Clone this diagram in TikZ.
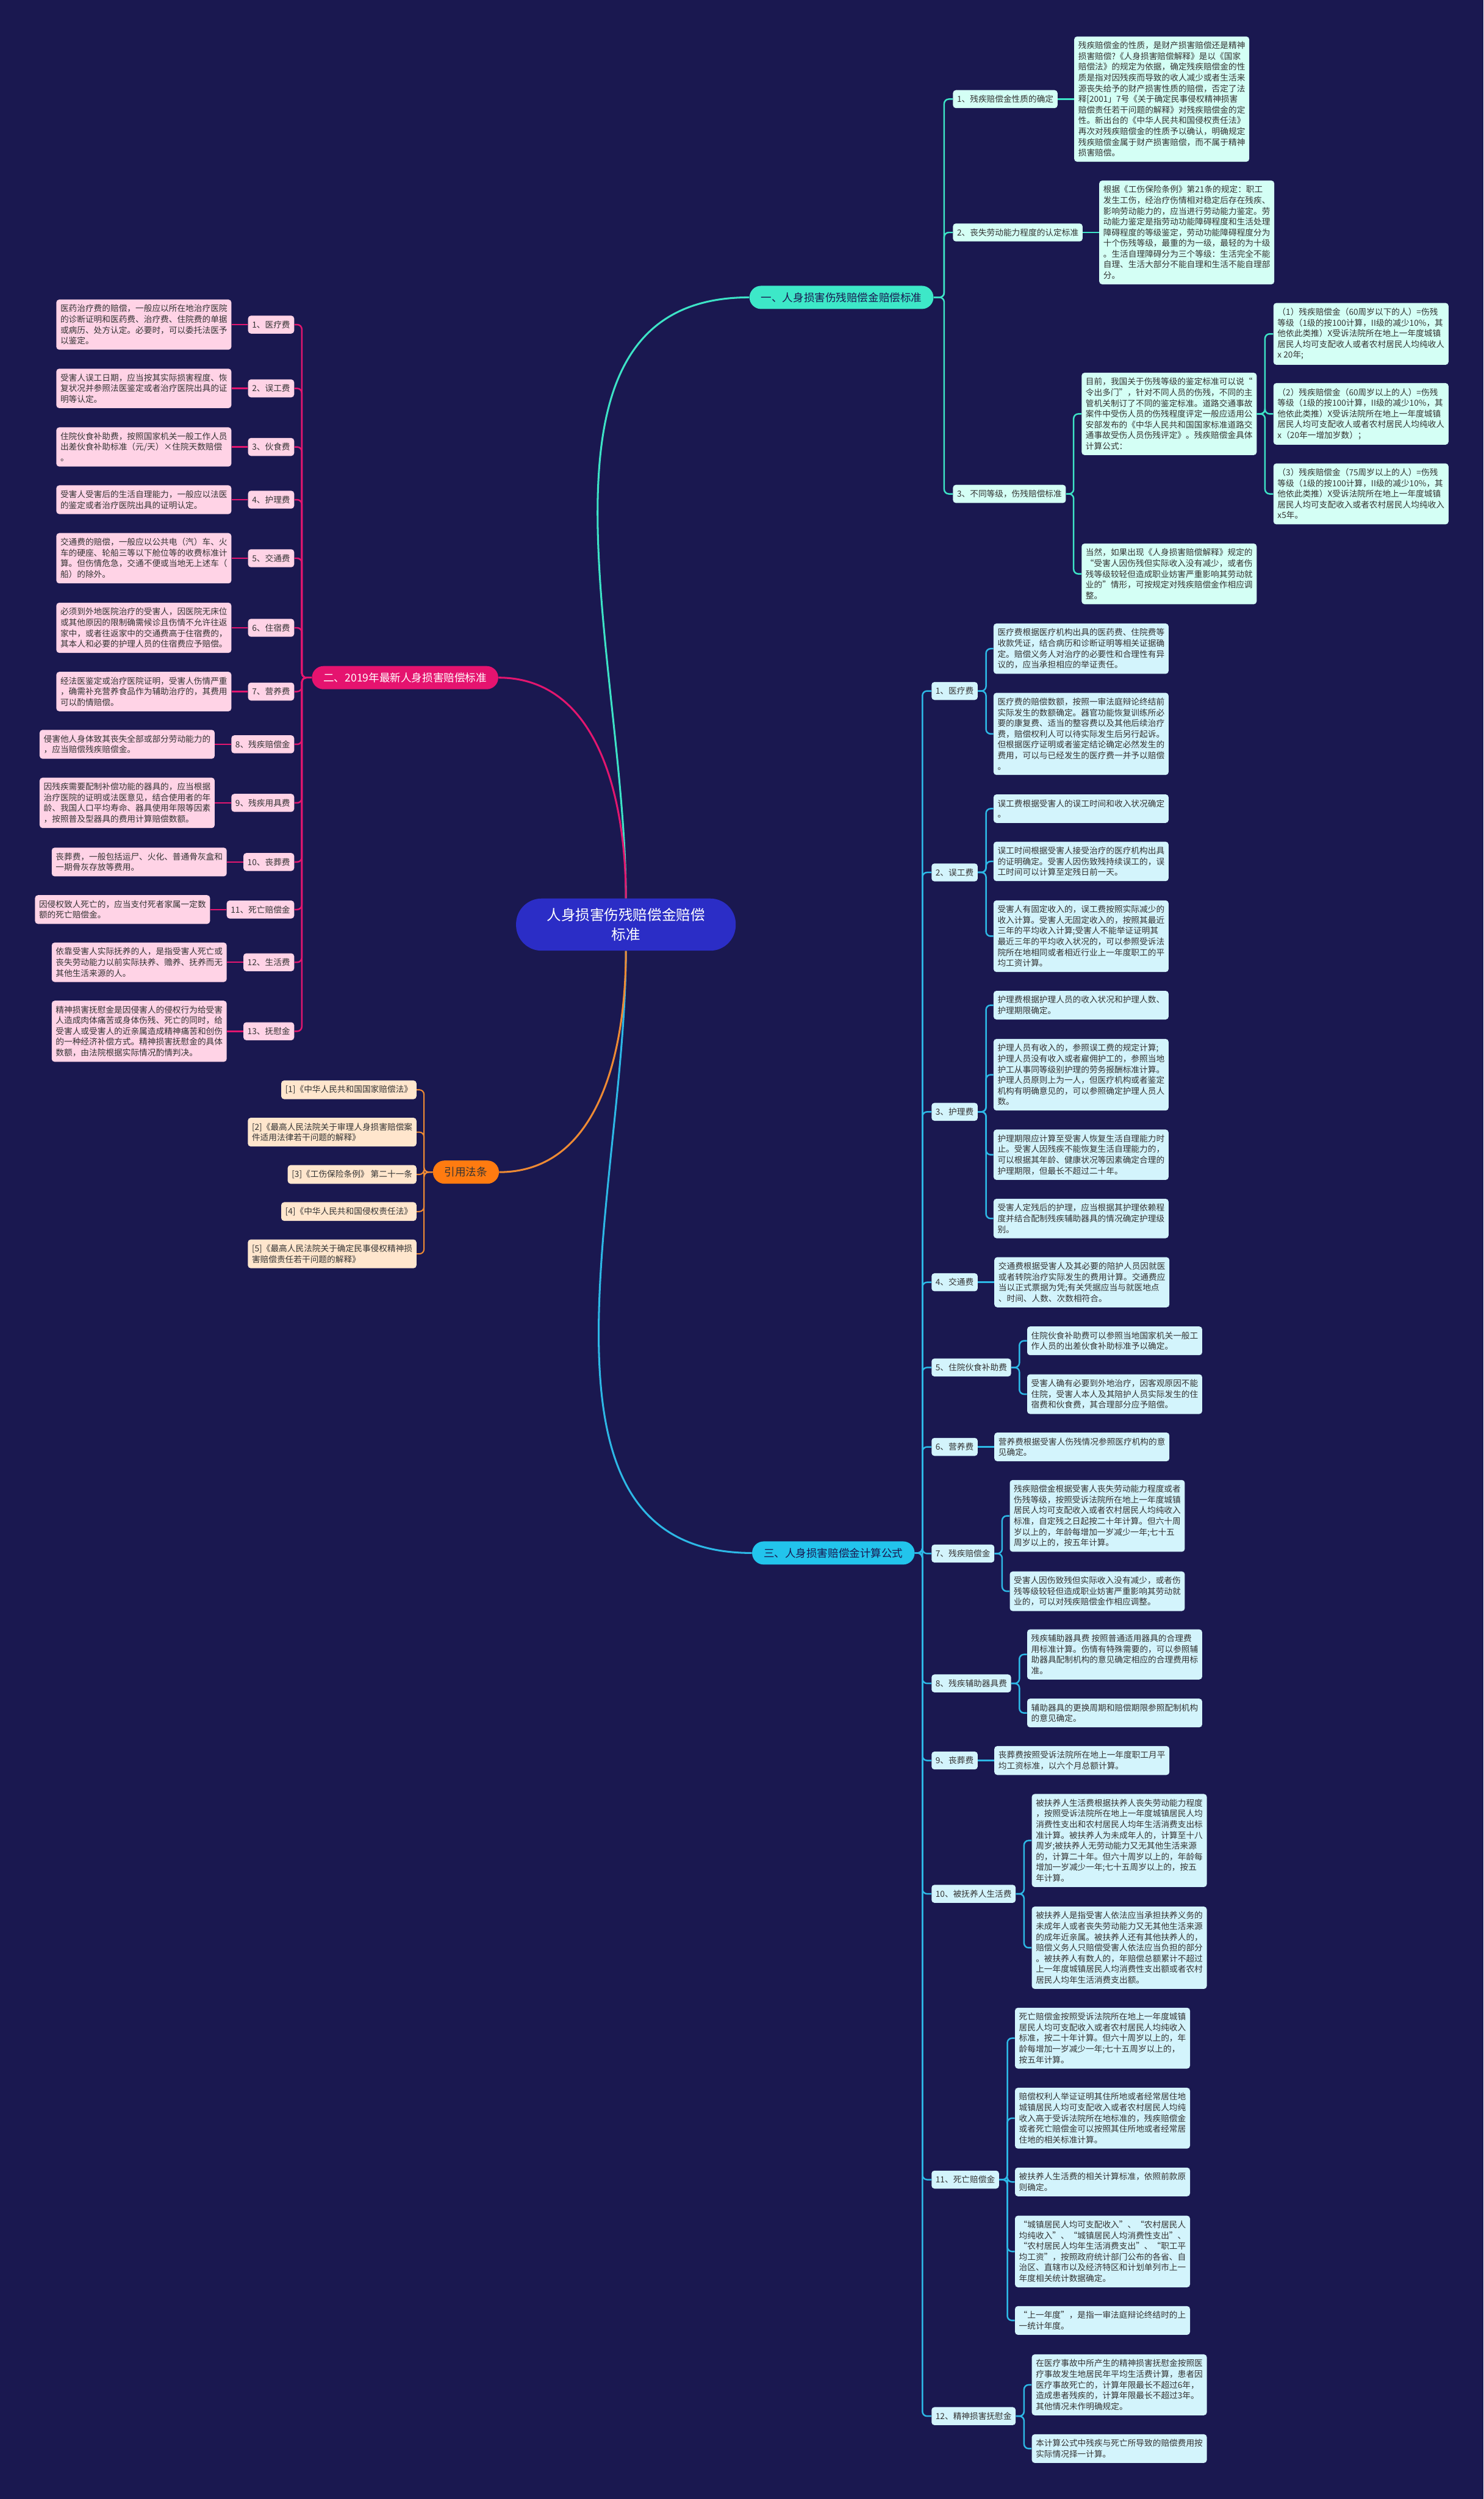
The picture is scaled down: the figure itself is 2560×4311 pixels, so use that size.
\documentclass[tikz,border=0pt]{standalone}
\usepackage{fontspec}
\setmainfont{Noto Sans CJK SC}
\usepackage{xcolor}
\usetikzlibrary{positioning}

\definecolor{bgnavy}{HTML}{1A1850}
\definecolor{rootblue}{HTML}{2B2DC6}
\definecolor{mintpill}{HTML}{3DE8C8}
\definecolor{mintline}{HTML}{3DE3C6}
\definecolor{mintbox}{HTML}{D4FFF5}
\definecolor{rosepill}{HTML}{E5136F}
\definecolor{roseline}{HTML}{E3166F}
\definecolor{rosebox}{HTML}{FFD3E6}
\definecolor{skypill}{HTML}{22C4EC}
\definecolor{skyline}{HTML}{2DB8E6}
\definecolor{skybox}{HTML}{D3F4FC}
\definecolor{orangepill}{HTML}{FF7B10}
\definecolor{orangeline}{HTML}{EE8A34}
\definecolor{orangebox}{HTML}{FFE6CD}
\definecolor{inkgray}{HTML}{333333}

\begin{document}
\begin{tikzpicture}[x=0.5pt, y=-0.5pt,
    every node/.style={font=\fontsize{7.2}{9.25}\selectfont, text=inkgray, align=left,
        inner xsep=3.5pt, inner ysep=4.4pt, rounded corners=2.5pt},
    rootnode/.style={fill=rootblue, text=white, align=center, font=\fontsize{12.4}{17.2}\selectfont,
        minimum width=189.5pt, minimum height=45pt, rounded corners=22pt},
    pill/.style={minimum height=20pt, inner xsep=10pt, inner ysep=0pt, rounded corners=10pt,
        font=\fontsize{9.25}{11}\selectfont},
    mintnode/.style={fill=mintbox},
    rosenode/.style={fill=rosebox},
    skynode/.style={fill=skybox},
    orangenode/.style={fill=orangebox},
    mintlink/.style={draw=mintline, line width=1.3pt, rounded corners=4pt},
    roselink/.style={draw=roseline, line width=1.3pt, rounded corners=4pt},
    skylink/.style={draw=skyline, line width=1.3pt, rounded corners=4pt},
    orangelink/.style={draw=orangeline, line width=1.1pt, rounded corners=4pt}
]
    \path[use as bounding box, fill=bgnavy] (0,0) rectangle (2560,4311);

    \node[rootnode] (root) at (1080,1595) {人身损害伤残赔偿金赔偿\\标准};

    % 一
    \node[pill, fill=mintpill, text=bgnavy] (b1) at (1452,513) {一、人身损害伤残赔偿金赔偿标准};
    \node[mintnode, anchor=west] (c11) at (1644,171) {1、残疾赔偿金性质的确定};
    \node[mintnode, right=14pt of c11] (l11) {残疾赔偿金的性质，是财产损害赔偿还是精神\\损害赔偿?《人身损害赔偿解释》是以《国家\\赔偿法》的规定为依据，确定残疾赔偿金的性\\质是指对因残疾而导致的收人减少或者生活来\\源丧失给予的财产损害性质的赔偿，否定了法\\释[2001」7号《关于确定民事侵权精神损害\\赔偿责任若干问题的解释》对残疾赔偿金的定\\性。新出台的《中华人民共和国侵权责任法》\\再次对残疾赔偿金的性质予以确认，明确规定\\残疾赔偿金属于财产损害赔偿，而不属于精神\\损害赔偿。};
    \node[mintnode, anchor=west] (c12) at (1644,401) {2、丧失劳动能力程度的认定标准};
    \node[mintnode, right=14pt of c12] (l12) {根据《工伤保险条例》第21条的规定：职工\\发生工伤，经治疗伤情相对稳定后存在残疾、\\影响劳动能力的，应当进行劳动能力鉴定。劳\\动能力鉴定是指劳动功能障碍程度和生活处理\\障碍程度的等级鉴定，劳动功能障碍程度分为\\十个伤残等级，最重的为一级，最轻的为十级\\。生活自理障碍分为三个等级：生活完全不能\\自理、生活大部分不能自理和生活不能自理部\\分。};
    \node[mintnode, anchor=west] (c13) at (1644,852) {3、不同等级，伤残赔偿标准};
    \node[mintnode, anchor=west] (l13a) at (1866,714) {目前，我国关于伤残等级的鉴定标准可以说“\\令出多门”，针对不同人员的伤残，不同的主\\管机关制订了不同的鉴定标准。道路交通事故\\案件中受伤人员的伤残程度评定一般应适用公\\安部发布的《中华人民共和国国家标准道路交\\通事故受伤人员伤残评定》。残疾赔偿金具体\\计算公式：};
    \node[mintnode, anchor=west] (l13b) at (1866,990) {当然，如果出现《人身损害赔偿解释》规定的\\“受害人因伤残但实际收入没有减少，或者伤\\残等级较轻但造成职业妨害严重影响其劳动就\\业的”情形，可按规定对残疾赔偿金作相应调\\整。};
    \node[mintnode, anchor=west] (g1) at (2197,576) {（1）残疾赔偿金（60周岁以下的人）=伤残\\等级（1级的按100计算，II级的减少10\%，其\\他依此类推）X受诉法院所在地上一年度城镇\\居民人均可支配收人或者农村居民人均纯收人\\x 20年;};
    \node[mintnode, anchor=west] (g2) at (2197,714) {（2）残疾赔偿金（60周岁以上的人）=伤残\\等级（1级的按100计算，II级的减少10\%，其\\他依此类推）X受诉法院所在地上一年度城镇\\居民人均可支配收人或者农村居民人均纯收人\\x（20年一增加岁数）；};
    \node[mintnode, anchor=west] (g3) at (2197,852) {（3）残疾赔偿金（75周岁以上的人）=伤残\\等级（1级的按100计算，II级的减少10\%，其\\他依此类推）X受诉法院所在地上一年度城镇\\居民人均可支配收入或者农村居民人均纯收入\\x5年。};

    % 二
    \node[pill, fill=rosepill, text=white] (b2) at (699,1169) {二、2019年最新人身损害赔偿标准};
    \node[rosenode, anchor=east] (c21) at (508,560) {1、医疗费};
    \node[rosenode, left=14pt of c21] (l21) {医药治疗费的赔偿，一般应以所在地治疗医院\\的诊断证明和医药费、治疗费、住院费的单据\\或病历、处方认定。必要时，可以委托法医予\\以鉴定。};
    \node[rosenode, anchor=east] (c22) at (508,670) {2、误工费};
    \node[rosenode, left=14pt of c22] (l22) {受害人误工日期，应当按其实际损害程度、恢\\复状况并参照法医鉴定或者治疗医院出具的证\\明等认定。};
    \node[rosenode, anchor=east] (c23) at (508,771) {3、伙食费};
    \node[rosenode, left=14pt of c23] (l23) {住院伙食补助费，按照国家机关一般工作人员\\出差伙食补助标准（元/天）×住院天数赔偿\\。};
    \node[rosenode, anchor=east] (c24) at (508,862) {4、护理费};
    \node[rosenode, left=14pt of c24] (l24) {受害人受害后的生活自理能力，一般应以法医\\的鉴定或者治疗医院出具的证明认定。};
    \node[rosenode, anchor=east] (c25) at (508,963) {5、交通费};
    \node[rosenode, left=14pt of c25] (l25) {交通费的赔偿，一般应以公共电（汽）车、火\\车的硬座、轮船三等以下舱位等的收费标准计\\算。但伤情危急，交通不便或当地无上述车（\\船）的除外。};
    \node[rosenode, anchor=east] (c26) at (508,1083) {6、住宿费};
    \node[rosenode, left=14pt of c26] (l26) {必须到外地医院治疗的受害人，因医院无床位\\或其他原因的限制确需候诊且伤情不允许往返\\家中，或者往返家中的交通费高于住宿费的，\\其本人和必要的护理人员的住宿费应予赔偿。};
    \node[rosenode, anchor=east] (c27) at (508,1193) {7、营养费};
    \node[rosenode, left=14pt of c27] (l27) {经法医鉴定或治疗医院证明，受害人伤情严重\\，确需补充营养食品作为辅助治疗的，其费用\\可以酌情赔偿。};
    \node[rosenode, anchor=east] (c28) at (508,1284) {8、残疾赔偿金};
    \node[rosenode, left=14pt of c28] (l28) {侵害他人身体致其丧失全部或部分劳动能力的\\，应当赔偿残疾赔偿金。};
    \node[rosenode, anchor=east] (c29) at (508,1385) {9、残疾用具费};
    \node[rosenode, left=14pt of c29] (l29) {因残疾需要配制补偿功能的器具的，应当根据\\治疗医院的证明或法医意见，结合使用者的年\\龄、我国人口平均寿命、器具使用年限等因素\\，按照普及型器具的费用计算赔偿数额。};
    \node[rosenode, anchor=east] (c210) at (508,1487) {10、丧葬费};
    \node[rosenode, left=14pt of c210] (l210) {丧葬费，一般包括运尸、火化、普通骨灰盒和\\一期骨灰存放等费用。};
    \node[rosenode, anchor=east] (c211) at (508,1569) {11、死亡赔偿金};
    \node[rosenode, left=14pt of c211] (l211) {因侵权致人死亡的，应当支付死者家属一定数\\额的死亡赔偿金。};
    \node[rosenode, anchor=east] (c212) at (508,1660) {12、生活费};
    \node[rosenode, left=14pt of c212] (l212) {依靠受害人实际抚养的人，是指受害人死亡或\\丧失劳动能力以前实际扶养、赡养、抚养而无\\其他生活来源的人。};
    \node[rosenode, anchor=east] (c213) at (508,1779) {13、抚慰金};
    \node[rosenode, left=14pt of c213] (l213) {精神损害抚慰金是因侵害人的侵权行为给受害\\人造成肉体痛苦或身体伤残、死亡的同时，给\\受害人或受害人的近亲属造成精神痛苦和创伤\\的一种经济补偿方式。精神损害抚慰金的具体\\数额，由法院根据实际情况酌情判决。};

    % 引用法条
    \node[pill, fill=orangepill, text=inkgray] (b4) at (804,2022) {引用法条};
    \node[orangenode, anchor=east] (r1) at (719,1880) {[1]《中华人民共和国国家赔偿法》};
    \node[orangenode, anchor=east] (r2) at (719,1953) {[2]《最高人民法院关于审理人身损害赔偿案\\件适用法律若干问题的解释》};
    \node[orangenode, anchor=east] (r3) at (719,2026) {[3]《工伤保险条例》 第二十一条};
    \node[orangenode, anchor=east] (r4) at (719,2090) {[4]《中华人民共和国侵权责任法》};
    \node[orangenode, anchor=east] (r5) at (719,2163) {[5]《最高人民法院关于确定民事侵权精神损\\害赔偿责任若干问题的解释》};

    % 三
    \node[pill, fill=skypill, text=bgnavy] (b3) at (1438,2679) {三、人身损害赔偿金计算公式};
    \node[skynode, anchor=west] (c31) at (1607,1192) {1、医疗费};
    \node[skynode, anchor=west] (l31a) at (1714,1119) {医疗费根据医疗机构出具的医药费、住院费等\\收款凭证，结合病历和诊断证明等相关证据确\\定。赔偿义务人对治疗的必要性和合理性有异\\议的，应当承担相应的举证责任。};
    \node[skynode, anchor=west] (l31b) at (1714,1266) {医疗费的赔偿数额，按照一审法庭辩论终结前\\实际发生的数额确定。器官功能恢复训练所必\\要的康复费、适当的整容费以及其他后续治疗\\费，赔偿权利人可以待实际发生后另行起诉。\\但根据医疗证明或者鉴定结论确定必然发生的\\费用，可以与已经发生的医疗费一并予以赔偿\\。};
    \node[skynode, anchor=west] (c32) at (1607,1505) {2、误工费};
    \node[skynode, anchor=west] (l32a) at (1714,1395) {误工费根据受害人的误工时间和收入状况确定\\。};
    \node[skynode, anchor=west] (l32b) at (1714,1486) {误工时间根据受害人接受治疗的医疗机构出具\\的证明确定。受害人因伤致残持续误工的，误\\工时间可以计算至定残日前一天。};
    \node[skynode, anchor=west] (l32c) at (1714,1615) {受害人有固定收入的，误工费按照实际减少的\\收入计算。受害人无固定收入的，按照其最近\\三年的平均收入计算;受害人不能举证证明其\\最近三年的平均收入状况的，可以参照受诉法\\院所在地相同或者相近行业上一年度职工的平\\均工资计算。};
    \node[skynode, anchor=west] (c33) at (1607,1918) {3、护理费};
    \node[skynode, anchor=west] (l33a) at (1714,1734) {护理费根据护理人员的收入状况和护理人数、\\护理期限确定。};
    \node[skynode, anchor=west] (l33b) at (1714,1854) {护理人员有收入的，参照误工费的规定计算;\\护理人员没有收入或者雇佣护工的，参照当地\\护工从事同等级别护理的劳务报酬标准计算。\\护理人员原则上为一人，但医疗机构或者鉴定\\机构有明确意见的，可以参照确定护理人员人\\数。};
    \node[skynode, anchor=west] (l33c) at (1714,1992) {护理期限应计算至受害人恢复生活自理能力时\\止。受害人因残疾不能恢复生活自理能力的，\\可以根据其年龄、健康状况等因素确定合理的\\护理期限，但最长不超过二十年。};
    \node[skynode, anchor=west] (l33d) at (1714,2102) {受害人定残后的护理，应当根据其护理依赖程\\度并结合配制残疾辅助器具的情况确定护理级\\别。};
    \node[skynode, anchor=west] (c34) at (1607,2212) {4、交通费};
    \node[skynode, right=14pt of c34] (l34) {交通费根据受害人及其必要的陪护人员因就医\\或者转院治疗实际发生的费用计算。交通费应\\当以正式票据为凭;有关凭据应当与就医地点\\、时间、人数、次数相符合。};
    \node[skynode, anchor=west] (c35) at (1607,2359) {5、住院伙食补助费};
    \node[skynode, anchor=west] (l35a) at (1772,2313) {住院伙食补助费可以参照当地国家机关一般工\\作人员的出差伙食补助标准予以确定。};
    \node[skynode, anchor=west] (l35b) at (1772,2405) {受害人确有必要到外地治疗，因客观原因不能\\住院，受害人本人及其陪护人员实际发生的住\\宿费和伙食费，其合理部分应予赔偿。};
    \node[skynode, anchor=west] (c36) at (1607,2496) {6、营养费};
    \node[skynode, right=14pt of c36] (l36) {营养费根据受害人伤残情况参照医疗机构的意\\见确定。};
    \node[skynode, anchor=west] (c37) at (1607,2680) {7、残疾赔偿金};
    \node[skynode, anchor=west] (l37a) at (1742,2615) {残疾赔偿金根据受害人丧失劳动能力程度或者\\伤残等级，按照受诉法院所在地上一年度城镇\\居民人均可支配收入或者农村居民人均纯收入\\标准，自定残之日起按二十年计算。但六十周\\岁以上的，年龄每增加一岁减少一年;七十五\\周岁以上的，按五年计算。};
    \node[skynode, anchor=west] (l37b) at (1742,2745) {受害人因伤致残但实际收入没有减少，或者伤\\残等级较轻但造成职业妨害严重影响其劳动就\\业的，可以对残疾赔偿金作相应调整。};
    \node[skynode, anchor=west] (c38) at (1607,2904) {8、残疾辅助器具费};
    \node[skynode, anchor=west] (l38a) at (1772,2854) {残疾辅助器具费 按照普通适用器具的合理费\\用标准计算。伤情有特殊需要的，可以参照辅\\助器具配制机构的意见确定相应的合理费用标\\准。};
    \node[skynode, anchor=west] (l38b) at (1772,2955) {辅助器具的更换周期和赔偿期限参照配制机构\\的意见确定。};
    \node[skynode, anchor=west] (c39) at (1607,3037) {9、丧葬费};
    \node[skynode, right=14pt of c39] (l39) {丧葬费按照受诉法院所在地上一年度职工月平\\均工资标准，以六个月总额计算。};
    \node[skynode, anchor=west] (c310) at (1607,3267) {10、被抚养人生活费};
    \node[skynode, anchor=west] (l310a) at (1780,3175) {被扶养人生活费根据扶养人丧失劳动能力程度\\，按照受诉法院所在地上一年度城镇居民人均\\消费性支出和农村居民人均年生活消费支出标\\准计算。被扶养人为未成年人的，计算至十八\\周岁;被扶养人无劳动能力又无其他生活来源\\的，计算二十年。但六十周岁以上的，年龄每\\增加一岁减少一年;七十五周岁以上的，按五\\年计算。};
    \node[skynode, anchor=west] (l310b) at (1780,3360) {被扶养人是指受害人依法应当承担扶养义务的\\未成年人或者丧失劳动能力又无其他生活来源\\的成年近亲属。被扶养人还有其他扶养人的，\\赔偿义务人只赔偿受害人依法应当负担的部分\\。被扶养人有数人的，年赔偿总额累计不超过\\上一年度城镇居民人均消费性支出额或者农村\\居民人均年生活消费支出额。};
    \node[skynode, anchor=west] (c311) at (1607,3760) {11、死亡赔偿金};
    \node[skynode, anchor=west] (l311a) at (1751,3516) {死亡赔偿金按照受诉法院所在地上一年度城镇\\居民人均可支配收入或者农村居民人均纯收入\\标准，按二十年计算。但六十周岁以上的，年\\龄每增加一岁减少一年;七十五周岁以上的，\\按五年计算。};
    \node[skynode, anchor=west] (l311b) at (1751,3654) {赔偿权利人举证证明其住所地或者经常居住地\\城镇居民人均可支配收入或者农村居民人均纯\\收入高于受诉法院所在地标准的，残疾赔偿金\\或者死亡赔偿金可以按照其住所地或者经常居\\住地的相关标准计算。};
    \node[skynode, anchor=west] (l311c) at (1751,3764) {被扶养人生活费的相关计算标准，依照前款原\\则确定。};
    \node[skynode, anchor=west] (l311d) at (1751,3884) {“城镇居民人均可支配收入”、“农村居民人\\均纯收入”、“城镇居民人均消费性支出”、\\“农村居民人均年生活消费支出”、“职工平\\均工资”，按照政府统计部门公布的各省、自\\治区、直辖市以及经济特区和计划单列市上一\\年度相关统计数据确定。};
    \node[skynode, anchor=west] (l311e) at (1751,4003) {“上一年度”，是指一审法庭辩论终结时的上\\一统计年度。};
    \node[skynode, anchor=west] (c312) at (1607,4168) {12、精神损害抚慰金};
    \node[skynode, anchor=west] (l312a) at (1780,4114) {在医疗事故中所产生的精神损害抚慰金按照医\\疗事故发生地居民年平均生活费计算，患者因\\医疗事故死亡的，计算年限最长不超过6年，\\造成患者残疾的，计算年限最长不超过3年。\\其他情况未作明确规定。};
    \node[skynode, anchor=west] (l312b) at (1780,4224) {本计算公式中残疾与死亡所导致的赔偿费用按\\实际情况择一计算。};

    % connectors
    \draw[mintlink, line width=1.6pt] (root.north) to[out=90, in=180] (b1.west);
    \draw[roselink, line width=1.6pt] (root.north) to[out=90, in=0] (b2.east);
    \draw[skylink, line width=1.6pt] (root.south) to[out=-90, in=180] (b3.west);
    \draw[orangelink, line width=1.6pt] (root.south) to[out=-90, in=0] (b4.east);

    \foreach \c in {c11,c12,c13}
        \draw[mintlink] (b1.east) -- ++(18,0) |- (\c.west);
    \draw[mintlink] (c11.east) -- (l11.west);
    \draw[mintlink] (c12.east) -- (l12.west);
    \foreach \l in {l13a,l13b}
        \draw[mintlink] (c13.east) -- ++(13,0) |- (\l.west);
    \foreach \l in {g1,g2,g3}
        \draw[mintlink] (l13a.east) -- ++(14,0) |- (\l.west);

    \foreach \c/\l in {c21/l21,c22/l22,c23/l23,c24/l24,c25/l25,c26/l26,c27/l27,c28/l28,c29/l29,c210/l210,c211/l211,c212/l212,c213/l213} {
        \draw[roselink] (b2.west) -- ++(-17,0) |- (\c.east);
        \draw[roselink] (\c.west) -- (\l.east);
    }

    \foreach \r in {r1,r2,r3,r4,r5}
        \draw[orangelink] (b4.west) -- ++(-15,0) |- (\r.east);

    \foreach \c in {c31,c32,c33,c34,c35,c36,c37,c38,c39,c310,c311,c312}
        \draw[skylink] (b3.east) -- ++(13,0) |- (\c.west);
    \foreach \l in {l31a,l31b}
        \draw[skylink] (c31.east) -- ++(14,0) |- (\l.west);
    \foreach \l in {l32a,l32b,l32c}
        \draw[skylink] (c32.east) -- ++(14,0) |- (\l.west);
    \foreach \l in {l33a,l33b,l33c,l33d}
        \draw[skylink] (c33.east) -- ++(14,0) |- (\l.west);
    \draw[skylink] (c34.east) -- (l34.west);
    \foreach \l in {l35a,l35b}
        \draw[skylink] (c35.east) -- ++(14,0) |- (\l.west);
    \draw[skylink] (c36.east) -- (l36.west);
    \foreach \l in {l37a,l37b}
        \draw[skylink] (c37.east) -- ++(13,0) |- (\l.west);
    \foreach \l in {l38a,l38b}
        \draw[skylink] (c38.east) -- ++(14,0) |- (\l.west);
    \draw[skylink] (c39.east) -- (l39.west);
    \foreach \l in {l310a,l310b}
        \draw[skylink] (c310.east) -- ++(14,0) |- (\l.west);
    \foreach \l in {l311a,l311b,l311c,l311d,l311e}
        \draw[skylink] (c311.east) -- ++(14,0) |- (\l.west);
    \foreach \l in {l312a,l312b}
        \draw[skylink] (c312.east) -- ++(14,0) |- (\l.west);
\end{tikzpicture}
\end{document}
